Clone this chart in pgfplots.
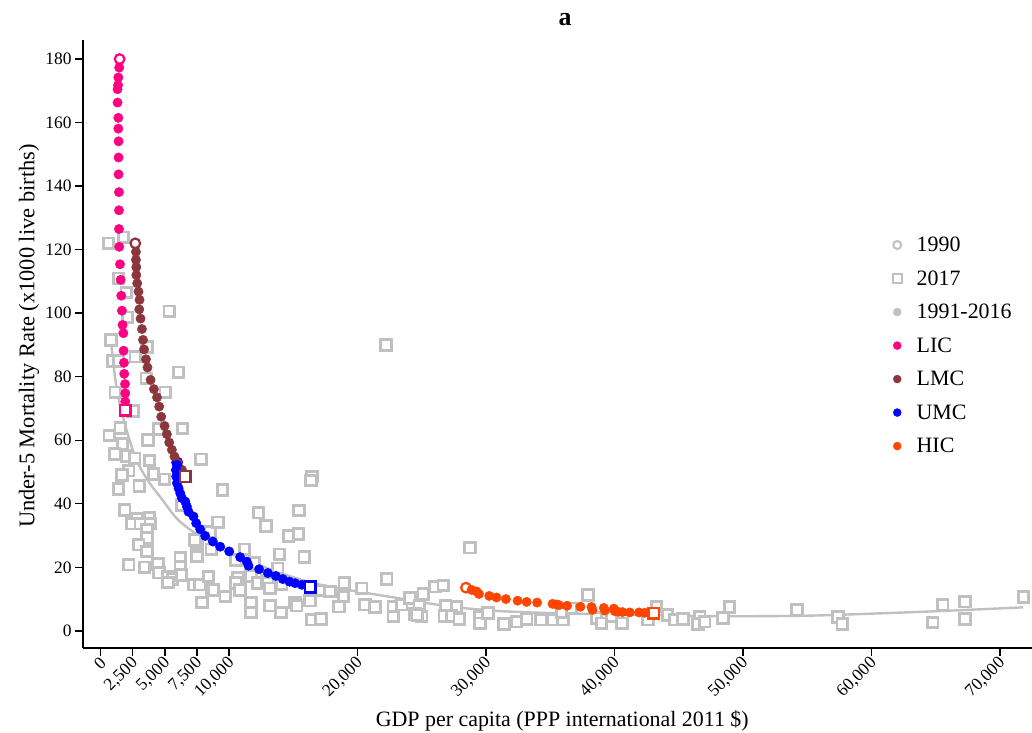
\documentclass[border=0pt]{standalone}
\usepackage{fontspec}
\setmainfont{Liberation Serif}
\usepackage{pgfplots}
\pgfplotsset{compat=1.18}
\definecolor{gr}{RGB}{192,192,192}
\definecolor{lic}{RGB}{255,0,128}
\definecolor{lmc}{RGB}{139,53,60}
\definecolor{umc}{RGB}{0,0,255}
\definecolor{hic}{RGB}{255,69,0}
\begin{document}
\begin{tikzpicture}
\begin{axis}[
 scale only axis, width=949bp, height=608bp,
 xmin=-1370, xmax=72500, ymin=-5.4, ymax=186,
 axis lines=left, axis line style={-, line width=1.4bp, black},
 tick align=outside, major tick length=8bp, tick style={line width=1.4bp, black},
 xtick={0,2500,5000,7500,10000,20000,30000,40000,50000,60000,70000},
 ytick={0,20,...,180},
 scaled x ticks=false, scaled y ticks=false,
 /pgf/number format/1000 sep={,},
 /pgf/number format/assume math mode=true,
 xticklabel style={rotate=45, anchor=east, yshift=-5bp, xshift=2bp, font=\fontsize{17.5}{20}\selectfont},
 yticklabel style={font=\fontsize{17.5}{20}\selectfont},
 xlabel={GDP per capita (PPP international 2011 \$)},
 ylabel={Under-5 Mortality Rate (x1000 live births)},
 every axis x label/.style={at={(axis description cs:0.505,-0.12)}, anchor=center, font=\fontsize{22}{26}\selectfont},
 every axis y label/.style={at={(axis description cs:-0.057,0.513)}, rotate=90, anchor=center, font=\fontsize{22.5}{26}\selectfont},
 title={\textbf{a}},
 every axis title/.style={at={(axis description cs:0.508,1.034)}, anchor=center, font=\fontsize{26}{30}\selectfont},
 legend style={draw=none, fill=none, at={(rel axis cs:0.850,0.683)}, anchor=north west,
   font=\fontsize{22}{26}\selectfont, row sep=13.5bp, column sep=13bp},
 legend cell align=left,
 legend entries={1990,2017,1991-2016,LIC,LMC,UMC,HIC},
]
\addlegendimage{only marks, mark=*, mark size=4bp, mark options={draw=gr, fill=white, line width=2bp}}
\addlegendimage{only marks, mark=square*, mark size=4.4bp, mark options={draw=gr, fill=white, line width=2bp}}
\addlegendimage{only marks, mark=*, mark size=4bp, color=gr}
\addlegendimage{only marks, mark=*, mark size=4bp, color=lic}
\addlegendimage{only marks, mark=*, mark size=4bp, color=lmc}
\addlegendimage{only marks, mark=*, mark size=4bp, color=umc}
\addlegendimage{only marks, mark=*, mark size=4bp, color=hic}

% 2017 countries
\addplot[forget plot, only marks, mark=square*, mark size=5.3bp, mark options={draw=gr, fill=white, line width=2.8bp}] table {
x y
622 122.0
1790 123.9
1400 111.0
2000 106.5
5340 100.6
2100 98.7
810 91.6
3610 89.3
2700 86.3
960 85.0
1400 85.0
3550 79.5
6070 81.4
1140 75.1
5030 75.1
2520 69.2
680 61.5
1530 63.8
4510 63.5
6380 63.7
3680 60.1
1710 58.8
1090 55.7
2050 55.1
2650 54.3
3810 53.6
7830 54.0
2180 50.4
1660 49.1
4120 49.4
4980 47.7
3010 45.6
1400 44.6
1870 38.1
3810 35.5
2830 35.2
2440 33.7
3090 33.7
3870 33.7
3610 31.8
3610 29.2
2960 27.1
3610 25.0
2180 20.8
3420 20.0
4460 21.1
4560 18.3
5240 17.1
5600 16.3
5240 15.2
6200 22.9
6200 20.2
6300 17.6
7500 23.4
7230 14.5
7750 14.5
8400 17.1
8660 12.9
7880 8.9
7500 27.6
8610 25.7
6330 39.6
8530 31.2
7360 28.6
8790 12.9
16440 48.6
16390 47.3
9490 44.4
9130 34.2
12290 37.2
15450 37.9
12890 33.0
14620 29.9
15400 30.5
11200 25.7
13920 24.1
15860 23.2
10530 22.3
11980 21.3
13790 19.7
10680 16.6
10530 15.0
10860 12.9
11720 17.3
12240 15.0
12940 15.7
13060 15.0
13190 13.4
14100 14.8
9700 10.8
11720 8.9
11720 5.8
13190 7.9
14050 5.8
15140 8.9
15270 7.9
16300 9.5
16440 3.5
17160 3.7
17000 12.7
17860 12.4
18970 15.0
18900 10.8
18560 7.6
20330 13.4
22270 16.3
20580 8.2
21360 7.5
22780 7.5
22780 4.5
23440 8.2
24080 10.3
24810 7.9
25120 11.6
24470 5.3
24990 4.5
24650 5.0
22220 90.0
28750 26.2
26030 13.9
26670 14.3
26860 7.9
27710 7.5
26750 4.7
27320 4.7
27920 3.7
29530 4.5
29530 2.4
30170 5.6
31390 2.2
32380 2.9
33160 3.7
34270 3.5
35230 3.5
36000 3.5
35880 5.8
36660 7.1
37950 11.3
38600 4.0
38990 2.4
39770 4.5
40590 2.4
42610 3.5
43270 7.6
44120 5.0
44690 3.5
45330 3.7
46630 4.5
46500 2.2
47020 2.9
48440 4.0
48960 7.5
54200 6.6
57390 4.3
57730 2.2
64770 2.6
65550 8.2
67290 9.2
67290 3.7
71830 10.6
};

% fitted curve
\addplot[forget plot, gr, line width=2.4bp, smooth, no marks] coordinates {
(800,91) (950,86) (1150,79) (1400,73) (1700,68) (2000,63.5) (2500,57) (3000,52)
(3800,46.6) (4800,41.3) (5900,35.5) (7200,31.2) (9300,26.5) (11400,22.3) (14000,18.2)
(16600,15.0) (19200,12.9) (23000,10.4) (25600,8.6) (28200,7.2) (30800,6.3) (33400,5.8)
(36000,5.5) (38600,5.3) (41200,5.1) (43800,4.9) (46500,4.7) (50300,4.6) (55400,4.8)
(60600,5.5) (65800,6.3) (71800,7.4)
};

% 1990 circles
\addplot[forget plot, only marks, mark=*, mark size=4.8bp, mark options={draw=lic, fill=white, line width=2.2bp}] coordinates {(1480,180.0)};
\addplot[forget plot, only marks, mark=*, mark size=4.8bp, mark options={draw=lmc, fill=white, line width=2.2bp}] coordinates {(2700,122.0)};
\addplot[forget plot, only marks, mark=*, mark size=4.8bp, mark options={draw=umc, fill=white, line width=2.2bp}] coordinates {(5960,53.0)};
\addplot[forget plot, only marks, mark=*, mark size=4.8bp, mark options={draw=hic, fill=white, line width=2.2bp}] coordinates {(28440,13.6)};

% LIC
\addplot[forget plot, only marks, mark=*, mark size=4.7bp, color=lic] table {
x y
1450 177.3
1380 174.2
1360 171.8
1320 170.5
1320 166.3
1380 161.5
1380 158.1
1400 154.1
1400 149.0
1400 143.7
1430 138.1
1430 132.4
1430 126.5
1450 120.9
1510 115.4
1560 110.5
1610 105.5
1660 100.8
1710 96.3
1770 93.7
1790 88.2
1820 84.4
1840 80.9
1900 77.7
1920 74.8
1920 72.2
};
% LMC
\addplot[forget plot, only marks, mark=*, mark size=4.7bp, color=lmc] table {
x y
2750 119.3
2750 116.8
2780 114.5
2780 112.0
2850 109.4
2950 106.8
3030 104.2
3010 101.2
3110 98.3
3220 95.0
3300 91.6
3380 88.6
3530 85.5
3650 82.9
3890 79.0
4150 76.1
4390 73.5
4560 70.6
4720 67.4
4980 64.5
5160 61.9
5340 59.3
5550 57.0
5750 54.9
6020 52.8
6330 50.7
};
% UMC
\addplot[forget plot, only marks, mark=*, mark size=4.7bp, color=umc] table {
x y
5940 52.2
5860 50.6
5890 48.6
5940 46.5
6070 44.9
6200 43.3
6330 41.8
6590 40.7
6720 39.1
6840 37.5
7230 36.0
7440 33.9
7750 32.0
8140 29.9
8740 28.1
9310 26.5
10010 25.0
10860 23.2
11380 21.8
11510 20.5
12340 19.4
13020 18.2
13640 17.3
14180 16.3
14700 15.5
15140 15.0
15660 14.5
};
% HIC
\addplot[forget plot, only marks, mark=*, mark size=4.7bp, color=hic] table {
x y
28880 12.9
29270 12.4
29450 11.6
30250 11.0
30820 10.5
31550 10.0
32460 9.5
33160 9.1
33980 8.9
35180 8.5
35490 8.3
35690 8.1
36310 7.9
37350 7.6
38210 7.5
38290 6.6
39170 7.2
39250 6.4
39950 7.0
40020 6.2
40280 6.0
40620 5.9
41190 5.8
41910 5.8
42360 5.7
};

% 2017 squares per group
\addplot[forget plot, only marks, mark=square*, mark size=5.3bp, mark options={draw=lic, fill=white, line width=2.5bp}] coordinates {(1920,69.5)};
\addplot[forget plot, only marks, mark=square*, mark size=5.3bp, mark options={draw=lmc, fill=white, line width=2.5bp}] coordinates {(6590,48.6)};
\addplot[forget plot, only marks, mark=square*, mark size=5.3bp, mark options={draw=umc, fill=white, line width=2.5bp}] coordinates {(16310,13.8)};
\addplot[forget plot, only marks, mark=square*, mark size=5.3bp, mark options={draw=hic, fill=white, line width=2.5bp}] coordinates {(43060,5.6)};
\end{axis}
\pgfresetboundingbox
\path[use as bounding box] (-83bp,-85bp) rectangle (949bp,648bp);
\end{tikzpicture}
\end{document}
